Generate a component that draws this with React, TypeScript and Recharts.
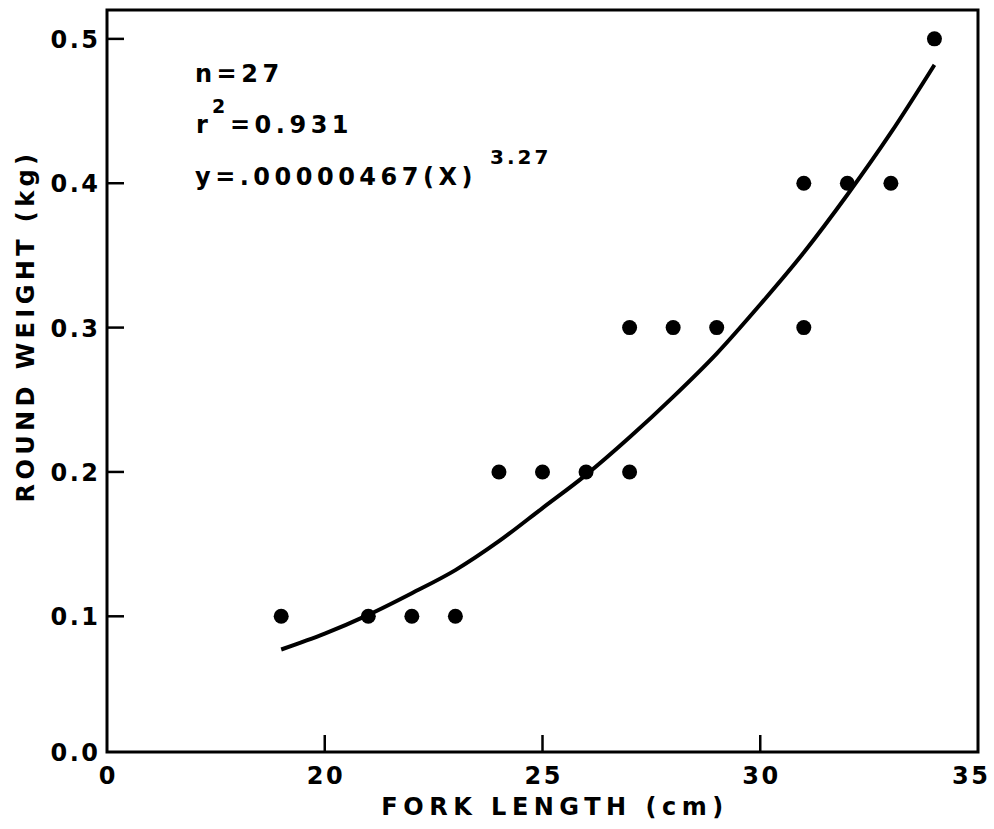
import React from 'react';
import { ComposedChart, Scatter, Line, XAxis, YAxis, ReferenceArea } from 'recharts';

// observed fish (fork length cm, round weight kg)
const lengths = [19, 21, 22, 23, 24, 25, 26, 27, 27, 28, 29, 31, 31, 32, 33, 34];
const weights = [0.1, 0.1, 0.1, 0.1, 0.2, 0.2, 0.2, 0.2, 0.3, 0.3, 0.3, 0.3, 0.4, 0.4, 0.4, 0.5];

// fitted curve
const fitLengths = [19, 20, 21, 22, 23, 24, 25, 26, 27, 28, 29, 30, 31, 32, 33, 34];
const fitWeights = [0.077, 0.088, 0.101, 0.116, 0.132, 0.152, 0.175, 0.198, 0.224, 0.252, 0.282, 0.316, 0.352, 0.392, 0.435, 0.482];

// axis is broken: the left end is labelled 0
const xTicks = [15, 20, 25, 30, 35];
const xTickLabels = ['0', '20', '25', '30', '35'];
const yTicks = [0.006, 0.1, 0.2, 0.3, 0.4, 0.5];
const yTickLabels = ['0.0', '0.1', '0.2', '0.3', '0.4', '0.5'];

const points = lengths.map((x, i) => ({ x, y: weights[i] }));
const fit = fitLengths.map((x, i) => ({ x, y: fitWeights[i] }));

const FONT = '"DejaVu Sans", sans-serif';
const LS = 2.5;

const XTick = (props: any) => {
    const { x, y, payload } = props;
    const label = xTickLabels[xTicks.indexOf(payload.value)];
    const edge = payload.value === 15 || payload.value === 35;
    return (
        <g>
            {!edge && <line x1={x} x2={x} y1={y} y2={y - 17} stroke="#000" strokeWidth={2.5} />}
            <text x={x + LS / 2 - (payload.value === 35 ? 8 : 0)} y={y + 32} textAnchor="middle" fontFamily={FONT} fontWeight="bold" fontSize={24} letterSpacing={LS} fill="#000">
                {label}
            </text>
        </g>
    );
};

const YTick = (props: any) => {
    const { x, y, payload } = props;
    const label = yTickLabels[yTicks.indexOf(payload.value)];
    const edge = payload.value === 0.006;
    return (
        <g>
            {!edge && <line x1={x} x2={x + 17} y1={y} y2={y} stroke="#000" strokeWidth={2.5} />}
            <text x={x + LS - 9} y={y + 9} textAnchor="end" fontFamily={FONT} fontWeight="bold" fontSize={24} letterSpacing={LS} fill="#000">
                {label}
            </text>
        </g>
    );
};

const Dot = (props: any) => <circle cx={props.cx} cy={props.cy} r={7.5} fill="#000" />;

const textStyle = { fontFamily: FONT, fontWeight: 'bold' as const, fontSize: 24, letterSpacing: 4.5, fill: '#000' };

export default function App() {
    return (
        <div style={{ position: 'absolute', left: 0, top: 0, width: 994, height: 829, background: '#fff' }}>
            <ComposedChart width={994} height={829} margin={{ top: 10, right: 16, bottom: 0, left: 0 }}>
                <XAxis
                    type="number"
                    dataKey="x"
                    domain={[15, 35]}
                    ticks={xTicks}
                    tick={<XTick />}
                    tickLine={false}
                    axisLine={false}
                    tickSize={0}
                    tickMargin={0}
                    height={77}
                    interval={0}
                />
                <YAxis
                    type="number"
                    dataKey="y"
                    domain={[0.006, 0.52]}
                    ticks={yTicks}
                    tick={<YTick />}
                    tickLine={false}
                    axisLine={false}
                    tickSize={0}
                    tickMargin={0}
                    width={107}
                    interval={0}
                />
                <ReferenceArea x1={15} x2={35} y1={0.006} y2={0.52} fill="none" stroke="#000" strokeWidth={3} />
                <Line data={fit} dataKey="y" type="monotone" stroke="#000" strokeWidth={4} dot={false} isAnimationActive={false} />
                <Scatter data={points} dataKey="y" shape={<Dot />} isAnimationActive={false} />
            </ComposedChart>
            <svg width={994} height={829} style={{ position: 'absolute', left: 0, top: 0, pointerEvents: 'none' }}>
                <text x={195} y={82} {...textStyle}>n=27</text>
                <text x={196} y={133} {...textStyle}>r</text>
                <text x={212} y={113} {...textStyle} fontSize={19}>2</text>
                <text x={230} y={133} {...textStyle}>=0.931</text>
                <text x={195} y={185} {...textStyle}>y=.00000467(X)</text>
                <text x={490} y={164} {...textStyle} fontSize={20} letterSpacing={3}>3.27</text>
                <text x={555} y={815} textAnchor="middle" {...textStyle} letterSpacing={5.5}>FORK LENGTH (cm)</text>
                <text x={34} y={326} textAnchor="middle" transform="rotate(-90 34 326)" {...textStyle} letterSpacing={4.4}>ROUND WEIGHT (kg)</text>
            </svg>
        </div>
    );
}
